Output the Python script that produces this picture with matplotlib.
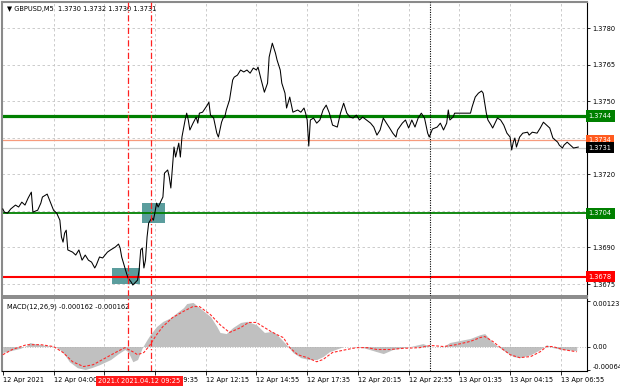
import matplotlib
matplotlib.use("Agg")
import matplotlib.pyplot as plt
from matplotlib.patches import Rectangle

# GBPUSD M5 closes, bar index -> price
bars = [0, 1, 3, 5, 8, 10, 12, 14, 16, 18, 19, 22, 24, 25, 28, 30, 32, 34, 36, 37, 38, 39, 40, 41, 44, 46, 48, 50,
        52, 54, 56, 58, 59, 61, 63, 66, 68, 71, 73, 74, 75, 77, 78, 79, 81, 82, 85, 86, 87, 88, 89, 90, 91, 92, 94,
        95, 96, 97, 98, 100, 101, 102, 104, 105, 106, 107, 108, 109, 110, 111, 112, 113, 115, 116, 117, 118, 120,
        122, 123, 124, 126, 129, 130, 131, 133, 135, 136, 138, 139, 140, 141, 143, 145, 146, 148, 150, 152, 154,
        156, 158, 160, 161, 163, 165, 167, 168, 170, 172, 173, 175, 176, 178, 179, 181, 183, 186, 188, 190, 191,
        192, 193, 194, 196, 198, 200, 202, 204, 206, 208, 211, 213, 215, 217, 219, 221, 223, 225, 227, 232, 234,
        236, 238, 240, 242, 244, 246, 248, 249, 252, 254, 256, 258, 260, 262, 264, 266, 268, 269, 271, 274, 276,
        278, 280, 281, 282, 284, 285, 286, 290, 295, 296, 298, 300, 302, 303, 304, 305, 306, 308, 309, 312, 314,
        316, 318, 320, 321, 322, 323, 324, 326, 328, 331, 332, 334, 337, 339, 341, 343, 345, 347, 350, 351, 353,
        354, 356, 358, 360, 363]
close = [1.37058, 1.37045, 1.37041, 1.37058, 1.37074, 1.37066, 1.37086, 1.37074, 1.37103, 1.37127, 1.37045,
         1.37053, 1.37082, 1.37107, 1.37119, 1.37086, 1.37053, 1.37041, 1.37012, 1.36943, 1.36922, 1.36959,
         1.36971, 1.36890, 1.36881, 1.36869, 1.36890, 1.36848, 1.36869, 1.36848, 1.36840, 1.36816, 1.36828,
         1.36861, 1.36857, 1.36881, 1.36890, 1.36902, 1.36914, 1.36898, 1.36861, 1.36816, 1.36795, 1.36775,
         1.36758, 1.36746, 1.36766, 1.36807, 1.36890, 1.36898, 1.36816, 1.36848, 1.36943, 1.37000, 1.37021,
         1.37012, 1.37045, 1.37082, 1.37066, 1.37094, 1.37107, 1.37205, 1.37218, 1.37189, 1.37144, 1.37230,
         1.37312, 1.37271, 1.37300, 1.37328, 1.37271, 1.37353, 1.37423, 1.37451, 1.37423, 1.37382, 1.37410,
         1.37435, 1.37410, 1.37451, 1.37455, 1.37484, 1.37496, 1.37443, 1.37431, 1.37369, 1.37353, 1.37414,
         1.37431, 1.37435, 1.37464, 1.37505, 1.37587, 1.37599, 1.37607, 1.37628, 1.37620, 1.37628, 1.37615,
         1.37636, 1.37628, 1.37640, 1.37587, 1.37537, 1.37574, 1.37681, 1.37738, 1.37697, 1.37669, 1.37628,
         1.37574, 1.37533, 1.37472, 1.37517, 1.37455, 1.37464, 1.37455, 1.37472, 1.37451, 1.37423, 1.37316,
         1.37423, 1.37431, 1.37410, 1.37423, 1.37464, 1.37484, 1.37451, 1.37402, 1.37394, 1.37451, 1.37492,
         1.37451, 1.37435, 1.37431, 1.37443, 1.37423, 1.37435, 1.37410, 1.37394, 1.37361, 1.37382, 1.37431,
         1.37410, 1.37390, 1.37369, 1.37353, 1.37382, 1.37410, 1.37423, 1.37390, 1.37423, 1.37394, 1.37431,
         1.37451, 1.37431, 1.37369, 1.37353, 1.37386, 1.37394, 1.37410, 1.37382, 1.37410, 1.37464, 1.37423,
         1.37435, 1.37451, 1.37451, 1.37451, 1.37451, 1.37476, 1.37517, 1.37533, 1.37542, 1.37533, 1.37492,
         1.37451, 1.37423, 1.37402, 1.37390, 1.37431, 1.37423, 1.37402, 1.37369, 1.37353, 1.37300, 1.37332,
         1.37349, 1.37312, 1.37353, 1.37369, 1.37373, 1.37361, 1.37373, 1.37369, 1.37390, 1.37414, 1.37402,
         1.37390, 1.37349, 1.37332, 1.37320, 1.37308, 1.37320, 1.37332, 1.37320, 1.37308, 1.37312]

# MACD(12,26,9) histogram and signal
hist_bars = [0, 5, 11, 15, 17, 20, 27, 33, 36, 39, 42, 47, 52, 56, 61, 68, 73, 77, 79, 82, 85, 88, 91, 93, 97, 101,
             106, 110, 114, 116, 120, 124, 131, 135, 137, 141, 145, 150, 154, 160, 165, 170, 173, 177, 180, 183,
             188, 193, 198, 202, 206, 215, 225, 236, 240, 246, 257, 265, 270, 278, 282, 288, 295, 301, 304, 309,
             315, 322, 326, 333, 339, 343, 347, 353, 362]
hist_vals = [-0.00016, -0.00011, -0.00005, 0.00003, 0.00011, 0.00008, 0.00003, 0.0, -0.00008, -0.00022, -0.00041,
             -0.00057, -0.00062, -0.00057, -0.00049, -0.00035, -0.00019, -0.00008, -0.00014, -0.00041, -0.00035,
             -0.00003, 0.00019, 0.00032, 0.00054, 0.00068, 0.00078, 0.00092, 0.00105, 0.00116, 0.00119, 0.00105,
             0.00081, 0.00054, 0.00038, 0.00035, 0.00051, 0.00065, 0.00068, 0.00059, 0.00038, 0.00041, 0.00032,
             0.00014, 0.0, -0.00016, -0.00030, -0.00035, -0.00035, -0.00027, -0.00014, 0.0, 0.0, -0.00014,
             -0.00019, -0.00008, 0.0, 0.00008, 0.0, 0.0, 0.00011, 0.00016, 0.00022, 0.00032, 0.00035, 0.00011,
             -0.00008, -0.00027, -0.00030, -0.00022, -0.00008, 0.00005, -0.00003, -0.00008, -0.00011]
sig_bars = [0, 6, 15, 24, 32, 38, 44, 51, 57, 63, 72, 77, 82, 85, 89, 93, 97, 101, 107, 114, 120, 124, 131, 137,
            143, 150, 155, 160, 164, 169, 173, 177, 181, 186, 192, 198, 202, 208, 217, 223, 230, 236, 244, 252,
            263, 270, 278, 286, 295, 301, 304, 309, 314, 320, 326, 333, 339, 343, 347, 353, 362]
sig_vals = [-0.00022, -0.00008, 0.00005, 0.00005, 0.0, -0.00016, -0.00041, -0.00054, -0.00049, -0.00035, -0.00014,
            -0.00003, -0.00014, -0.00022, -0.00016, 0.00005, 0.00032, 0.00054, 0.00078, 0.00095, 0.00108, 0.00108,
            0.00086, 0.00059, 0.00038, 0.00051, 0.00065, 0.00065, 0.00054, 0.00041, 0.00032, 0.00024, -0.00003,
            -0.00022, -0.00030, -0.00041, -0.00035, -0.00016, -0.00008, -0.00003, -0.00003, -0.00008, -0.00008,
            -0.00005, -0.00003, 0.00003, 0.0, 0.00005, 0.00014, 0.00024, 0.00027, 0.00014, -0.00003, -0.00022,
            -0.00030, -0.00027, -0.00014, 0.0, 0.0, -0.00008, -0.00014]

# time axis
tick_bars = [0, 32, 64, 96, 128, 160, 192, 224, 256, 288, 320, 352]
tick_labels = ['12 Apr 2021', '12 Apr 04:00', '12 Apr 06:55', '12 Apr 09:35', '12 Apr 12:15', '12 Apr 14:55',
               '12 Apr 17:35', '12 Apr 20:15', '12 Apr 22:55', '13 Apr 01:35', '13 Apr 04:15', '13 Apr 06:55']
price_ticks = [1.3780, 1.3765, 1.3750, 1.3735, 1.3720, 1.3705, 1.3690, 1.3675]
price_labels = ['1.3780', '1.3765', '1.3750', '', '1.3720', '', '1.3690', '1.3675']

# horizontal levels: price, colour, width
levels = [(1.3744, '#008000', 2.3), (1.3704, '#008000', 1.3), (1.3678, '#ff0000', 1.5),
          (1.3734, '#f79a7c', 0.9), (1.3731, '#c8c8c8', 0.9)]
level_tags = [(1.3744, '#008000', 'white'), (1.3734, '#ff5a1e', 'white'), (1.3731, 'black', 'white'),
              (1.3704, '#008000', 'white'), (1.3678, '#ff0000', 'white')]
# signal boxes: bar start, bar end, low, high
boxes = [(69, 86.5, 1.36750, 1.36816), (87.8, 102.3, 1.37000, 1.37082)]
signal_lines = [79, 93.5]
signal_times = ['2021.04.12 08:10', '2021.04.12 09:25']
day_sep = 269.4

fs = 4.8
plt.rcParams['font.family'] = 'DejaVu Sans'
fig = plt.figure(figsize=(6.2, 3.88), dpi=100)
W, H = 620.0, 388.0
ax = fig.add_axes([2 / W, 1 - 296 / H, 585 / W, 294 / H])
axm = fig.add_axes([2 / W, 1 - 371 / H, 585 / W, 73 / H])

grid_kw = dict(color='#c4c4c4', lw=0.6, ls=(0, (3, 3)), zorder=0)
for b in tick_bars[1:]:
    ax.axvline(b, **grid_kw)
    axm.axvline(b, **grid_kw)
for p in price_ticks:
    ax.axhline(p, **grid_kw)

for b0, b1, lo, hi in boxes:
    ax.add_patch(Rectangle((b0, lo), b1 - b0, hi - lo, facecolor='#5b9d9d', edgecolor='none', zorder=1))

for p, c, w in levels:
    ax.axhline(p, color=c, lw=w, zorder=2)

ax.plot(bars, close, color='black', lw=0.75, zorder=3)

for b in signal_lines:
    ax.axvline(b, color='#ff2020', lw=0.9, ls=(0, (5, 2, 1, 2)), zorder=4)
    axm.axvline(b, color='#ff2020', lw=0.9, ls=(0, (5, 2, 1, 2)), zorder=4)
ax.axvline(day_sep, color='black', lw=0.8, ls=(0, (1, 1.2)), zorder=4)
axm.axvline(day_sep, color='black', lw=0.8, ls=(0, (1, 1.2)), zorder=4)

ax.set_xlim(-0.5, 368.5)
ax.set_ylim(1.36701, 1.37907)
ax.set_xticks([])
ax.yaxis.tick_right()
ax.set_yticks(price_ticks)
ax.set_yticklabels(price_labels, fontsize=fs)
ax.tick_params(axis='y', length=2.5, width=0.6, pad=1.5)

for p, fc, tc in level_tags:
    ax.text(1.003, p, '%.4f' % p, transform=ax.get_yaxis_transform(), fontsize=fs, color=tc, va='center',
            ha='left', bbox=dict(boxstyle='square,pad=0.4', facecolor=fc, edgecolor='none'), clip_on=False,
            zorder=6)

ax.text(0.008, 0.985, '\u25bc GBPUSD,M5  1.3730 1.3732 1.3730 1.3731', transform=ax.transAxes, fontsize=fs,
        va='top', ha='left')

for s in ['left', 'top']:
    ax.spines[s].set_color('#8a8a8a')
    ax.spines[s].set_linewidth(1.5)
ax.spines['bottom'].set_color('#8a8a8a')
ax.spines['bottom'].set_linewidth(1.4)
ax.spines['right'].set_linewidth(0.8)

# MACD pane
axm.fill_between(hist_bars, 0, hist_vals, color='#c0c0c0', lw=0, zorder=1)
axm.axhline(0, color='#b0b0b0', lw=0.6, ls=(0, (1, 2)), zorder=2)
axm.plot(sig_bars, sig_vals, color='#ff2a2a', lw=0.8, ls=(0, (2.5, 1.5)), zorder=3)
axm.set_xlim(-0.5, 368.5)
axm.set_ylim(-0.00066, 0.00131)
axm.yaxis.tick_right()
axm.set_yticks([0.001237, 0.0, -0.00064])
mlabels = axm.set_yticklabels(['0.001237', '0.00', '-0.00064'], fontsize=fs)
mlabels[0].set_va('top')
mlabels[2].set_va('bottom')
axm.tick_params(axis='y', length=2.5, width=0.6, pad=1.5)
axm.set_xticks(tick_bars)
axm.set_xticklabels(tick_labels, fontsize=fs, ha='left')
axm.tick_params(axis='x', length=3, width=0.6, pad=1.5)
axm.text(0.008, 0.93, 'MACD(12,26,9) -0.000162 -0.000162', transform=axm.transAxes, fontsize=fs, va='top',
         ha='left')
for s in ['left', 'top']:
    axm.spines[s].set_color('#8a8a8a')
    axm.spines[s].set_linewidth(1.5)
axm.spines['top'].set_linewidth(1.4)
axm.spines['bottom'].set_linewidth(0.8)
axm.spines['right'].set_linewidth(0.8)

for b, t in zip(signal_lines, signal_times):
    axm.text(b, -0.14, t, transform=axm.get_xaxis_transform(), fontsize=fs, color='white', ha='center',
             va='center', bbox=dict(boxstyle='square,pad=0.3', facecolor='#ff1a1a', edgecolor='none'),
             clip_on=False, zorder=6)

fig.savefig('out.png', dpi=100)
